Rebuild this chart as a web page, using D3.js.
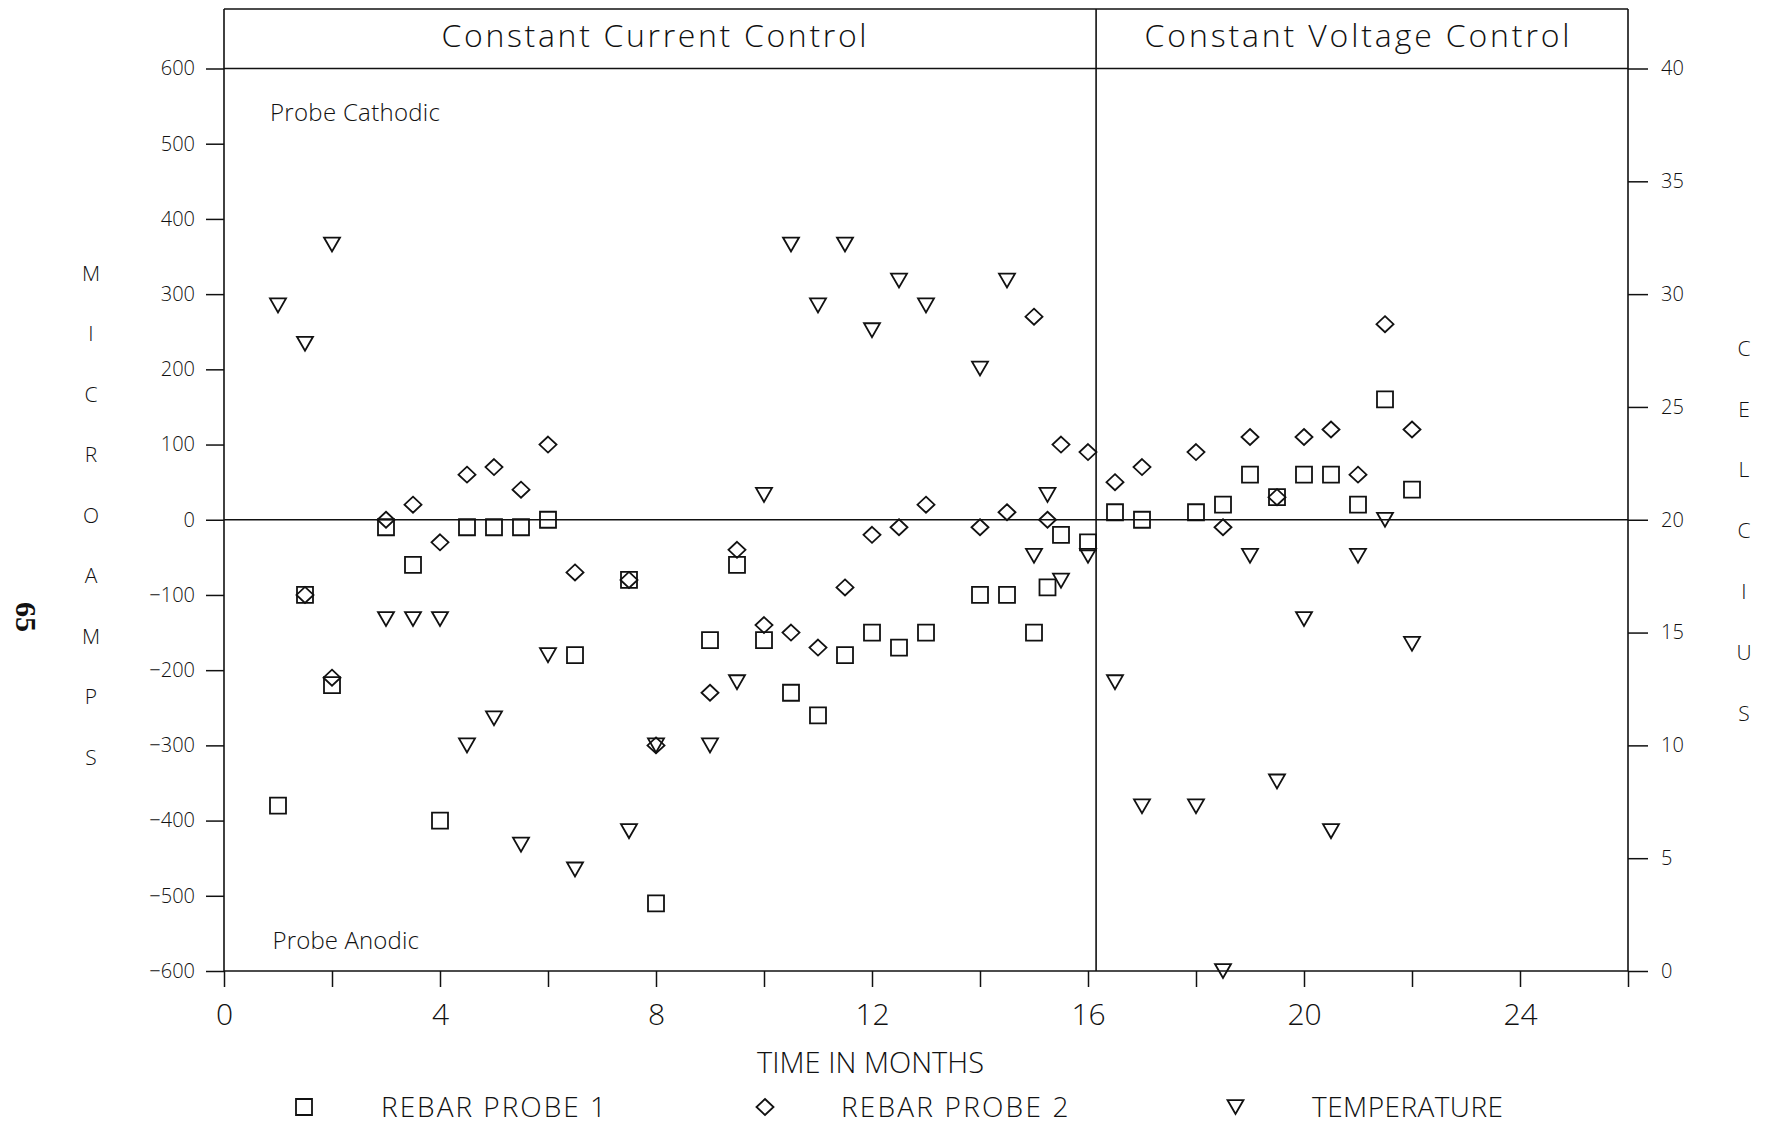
<!DOCTYPE html>
<html>
<head>
<meta charset="utf-8">
<script src="https://cdn.jsdelivr.net/npm/d3@7/dist/d3.min.js"></script>
<style>
  html, body { margin: 0; padding: 0; background: #fff; }
  svg text { fill: #111; font-family: "Open Sans", "DejaVu Sans", sans-serif; font-weight: 300; }
</style>
</head>
<body>
<svg id="chart" width="1766" height="1125"></svg>
<script>
// Rebar probe currents (microamps) and concrete temperature (Celsius) by month
const probe1Months = [1,1.5,2,3,3.5,4,4.5,5,5.5,6,6.5,7.5,8,9,9.5,10,10.5,11,11.5,12,12.5,13,14,14.5,15,15.25,15.5,16,16.5,17,18,18.5,19,19.5,20,20.5,21,21.5,22];
const probe1 = [-380,-100,-220,-10,-60,-400,-10,-10,-10,0,-180,-80,-510,-160,-60,-160,-230,-260,-180,-150,-170,-150,-100,-100,-150,-90,-20,-30,10,0,10,20,60,30,60,60,20,160,40];

const probe2Months = [1.5,2,3,3.5,4,4.5,5,5.5,6,6.5,7.5,8,9,9.5,10,10.5,11,11.5,12,12.5,13,14,14.5,15,15.25,15.5,16,16.5,17,18,18.5,19,19.5,20,20.5,21,21.5,22];
const probe2 = [-100,-210,0,20,-30,60,70,40,100,-70,-80,-300,-230,-40,-140,-150,-170,-90,-20,-10,20,-10,10,270,0,100,90,50,70,90,-10,110,30,110,120,60,260,120];

const tempMonths = [1,1.5,2,3,3.5,4,4.5,5,5.5,6,6.5,7.5,8,9,9.5,10,10.5,11,11.5,12,12.5,13,14,14.5,15,15.25,15.5,16,16.5,17,18,18.5,19,19.5,20,20.5,21,21.5,22];
const tempC = [29.5,27.8,32.2,15.6,15.6,15.6,10.0,11.2,5.6,14.0,4.5,6.2,10.0,10.0,12.8,21.1,32.2,29.5,32.2,28.4,30.6,29.5,26.7,30.6,18.4,21.1,17.3,18.4,12.8,7.3,7.3,0,18.4,8.4,15.6,6.2,18.4,20,14.5];

const currentTicks = [-600,-500,-400,-300,-200,-100,0,100,200,300,400,500,600];
const celsiusTicks = [0,5,10,15,20,25,30,35,40];
const monthTicks = [0,2,4,6,8,10,12,14,16,18,20,22,24,26];
const monthLabels = [0,4,8,12,16,20,24];
const switchMonth = 16.15;   // change from current control to voltage control

const phaseTitles = ["Constant Current Control", "Constant Voltage Control"];
const seriesNames = ["REBAR PROBE 1", "REBAR PROBE 2", "TEMPERATURE"];

const svg = d3.select("#chart");
const frameTop = 9, headerBottom = 68.5, frameBottom = 971;

const x = d3.scaleLinear().domain([0, 26]).range([224, 1628]);
const y = d3.scaleLinear().domain([-600, 600]).range([frameBottom, headerBottom]);
const yT = d3.scaleLinear().domain([0, 40]).range([frameBottom, headerBottom]);

const line = (x1, y1, x2, y2, w) => svg.append("line")
  .attr("x1", x1).attr("y1", y1).attr("x2", x2).attr("y2", y2)
  .attr("stroke", "#111").attr("stroke-width", w);

// Frame, header band and phase divider
line(x(0), frameTop, x(26), frameTop, 1.6);
line(x(0), headerBottom, x(26), headerBottom, 1.6);
line(x(0), frameTop, x(0), frameBottom, 1.6);
line(x(26), frameTop, x(26), frameBottom, 1.6);
line(x(0), frameBottom, x(26), frameBottom, 1.6);
line(x(switchMonth), frameTop, x(switchMonth), frameBottom, 1.6);
line(x(0), y(0), x(26), y(0), 1.3);

// Phase titles
const titleCenters = [(x(0) + x(switchMonth)) / 2 - 6, (x(switchMonth) + x(26)) / 2 - 5];
phaseTitles.forEach((t, i) => {
  svg.append("text").attr("x", titleCenters[i]).attr("y", 46.5)
    .attr("text-anchor", "middle").attr("font-size", 32)
    .attr("textLength", 425).attr("lengthAdjust", "spacing")
    .text(t);
});

// Axes
const fmt = d3.format("");
const leftAxis = svg.append("g").attr("transform", `translate(${x(0)},0)`)
  .call(d3.axisLeft(y).tickValues(currentTicks).tickSize(18).tickPadding(11).tickFormat(fmt));
const rightAxis = svg.append("g").attr("transform", `translate(${x(26)},0)`)
  .call(d3.axisRight(yT).tickValues(celsiusTicks).tickSize(20).tickPadding(13));
const bottomAxis = svg.append("g").attr("transform", `translate(0,${frameBottom})`)
  .call(d3.axisBottom(x).tickValues(monthTicks).tickSize(16).tickPadding(17)
    .tickFormat(d => monthLabels.includes(d) ? d : ""));

[leftAxis, rightAxis, bottomAxis].forEach(g => {
  g.select(".domain").remove();
  g.selectAll(".tick line").attr("stroke", "#111").attr("stroke-width", 1.5);
  g.selectAll(".tick text").attr("font-family", "'Open Sans', sans-serif").attr("fill", "#111");
});
leftAxis.selectAll(".tick text").attr("font-size", 20);
rightAxis.selectAll(".tick text").attr("font-size", 20);
bottomAxis.selectAll(".tick text").attr("font-size", 30);

// Stacked axis titles
const leftTitle = "MICROAMPS".split("");
leftTitle.forEach((c, i) => {
  svg.append("text").attr("x", 91).attr("y", 273 + 60.5 * i)
    .attr("dy", "0.36em").attr("text-anchor", "middle").attr("font-size", 21).text(c);
});
const rightTitle = "CELCIUS".split("");
rightTitle.forEach((c, i) => {
  svg.append("text").attr("x", 1744).attr("y", 348.3 + 60.8 * i)
    .attr("dy", "0.36em").attr("text-anchor", "middle").attr("font-size", 21).text(c);
});

svg.append("text").attr("x", x(0) + 46).attr("y", 120.7).attr("font-size", 24)
  .attr("textLength", 170).attr("lengthAdjust", "spacing").text("Probe Cathodic");
svg.append("text").attr("x", x(0) + 48.5).attr("y", 949).attr("font-size", 24)
  .attr("textLength", 146.5).attr("lengthAdjust", "spacing").text("Probe Anodic");

svg.append("text").attr("x", 757).attr("y", 1073).attr("font-size", 29)
  .attr("textLength", 227).attr("lengthAdjust", "spacing").text("TIME IN MONTHS");

// Page number
svg.append("text").attr("transform", "translate(26,617) rotate(90)")
  .attr("text-anchor", "middle").attr("dy", "0.35em")
  .style("font-family", "'Liberation Serif', serif").style("font-weight", "bold")
  .attr("font-size", 30).text("65");

// Marker shapes
const squareType = { draw(ctx, size) { const h = Math.sqrt(size) / 2;
  ctx.moveTo(-h, -h); ctx.lineTo(h, -h); ctx.lineTo(h, h); ctx.lineTo(-h, h); ctx.closePath(); } };
const diamondType = { draw(ctx, size) { const h = Math.sqrt(size) / 2;
  ctx.moveTo(0, -h * 0.94); ctx.lineTo(h, 0); ctx.lineTo(0, h * 0.94); ctx.lineTo(-h, 0); ctx.closePath(); } };
const triangleType = { draw(ctx, size) { const h = Math.sqrt(size) / 2;
  ctx.moveTo(-h, -h * 0.87); ctx.lineTo(h, -h * 0.87); ctx.lineTo(0, h * 0.87); ctx.closePath(); } };

const sym = (type) => d3.symbol().type(type).size(256);
const markerStyle = sel => sel.attr("fill", "none").attr("stroke", "#111").attr("stroke-width", 1.8);

svg.append("g").selectAll("path").data(probe1Months.map((m, i) => [m, probe1[i]])).join("path")
  .attr("d", sym(squareType)).attr("transform", d => `translate(${x(d[0])},${y(d[1])})`).call(markerStyle);
svg.append("g").selectAll("path").data(probe2Months.map((m, i) => [m, probe2[i]])).join("path")
  .attr("d", d3.symbol().type(diamondType).size(290)).attr("transform", d => `translate(${x(d[0])},${y(d[1])})`).call(markerStyle);
svg.append("g").selectAll("path").data(tempMonths.map((m, i) => [m, tempC[i]])).join("path")
  .attr("d", sym(triangleType)).attr("transform", d => `translate(${x(d[0])},${yT(d[1])})`).call(markerStyle);

// Legend
const legendTypes = [squareType, diamondType, triangleType];
const legendMarkX = [304, 765, 1235.5];
const legendTextX = [381, 841, 1312];
const legendTextW = [225, 227.5, 191];
seriesNames.forEach((name, i) => {
  svg.append("path").attr("d", d3.symbol().type(legendTypes[i]).size(i === 1 ? 290 : 256))
    .attr("transform", `translate(${legendMarkX[i]},1107)`).call(markerStyle);
  svg.append("text").attr("x", legendTextX[i]).attr("y", 1117).attr("font-size", 28)
    .attr("textLength", legendTextW[i]).attr("lengthAdjust", "spacing").text(name);
});
</script>
</body>
</html>
